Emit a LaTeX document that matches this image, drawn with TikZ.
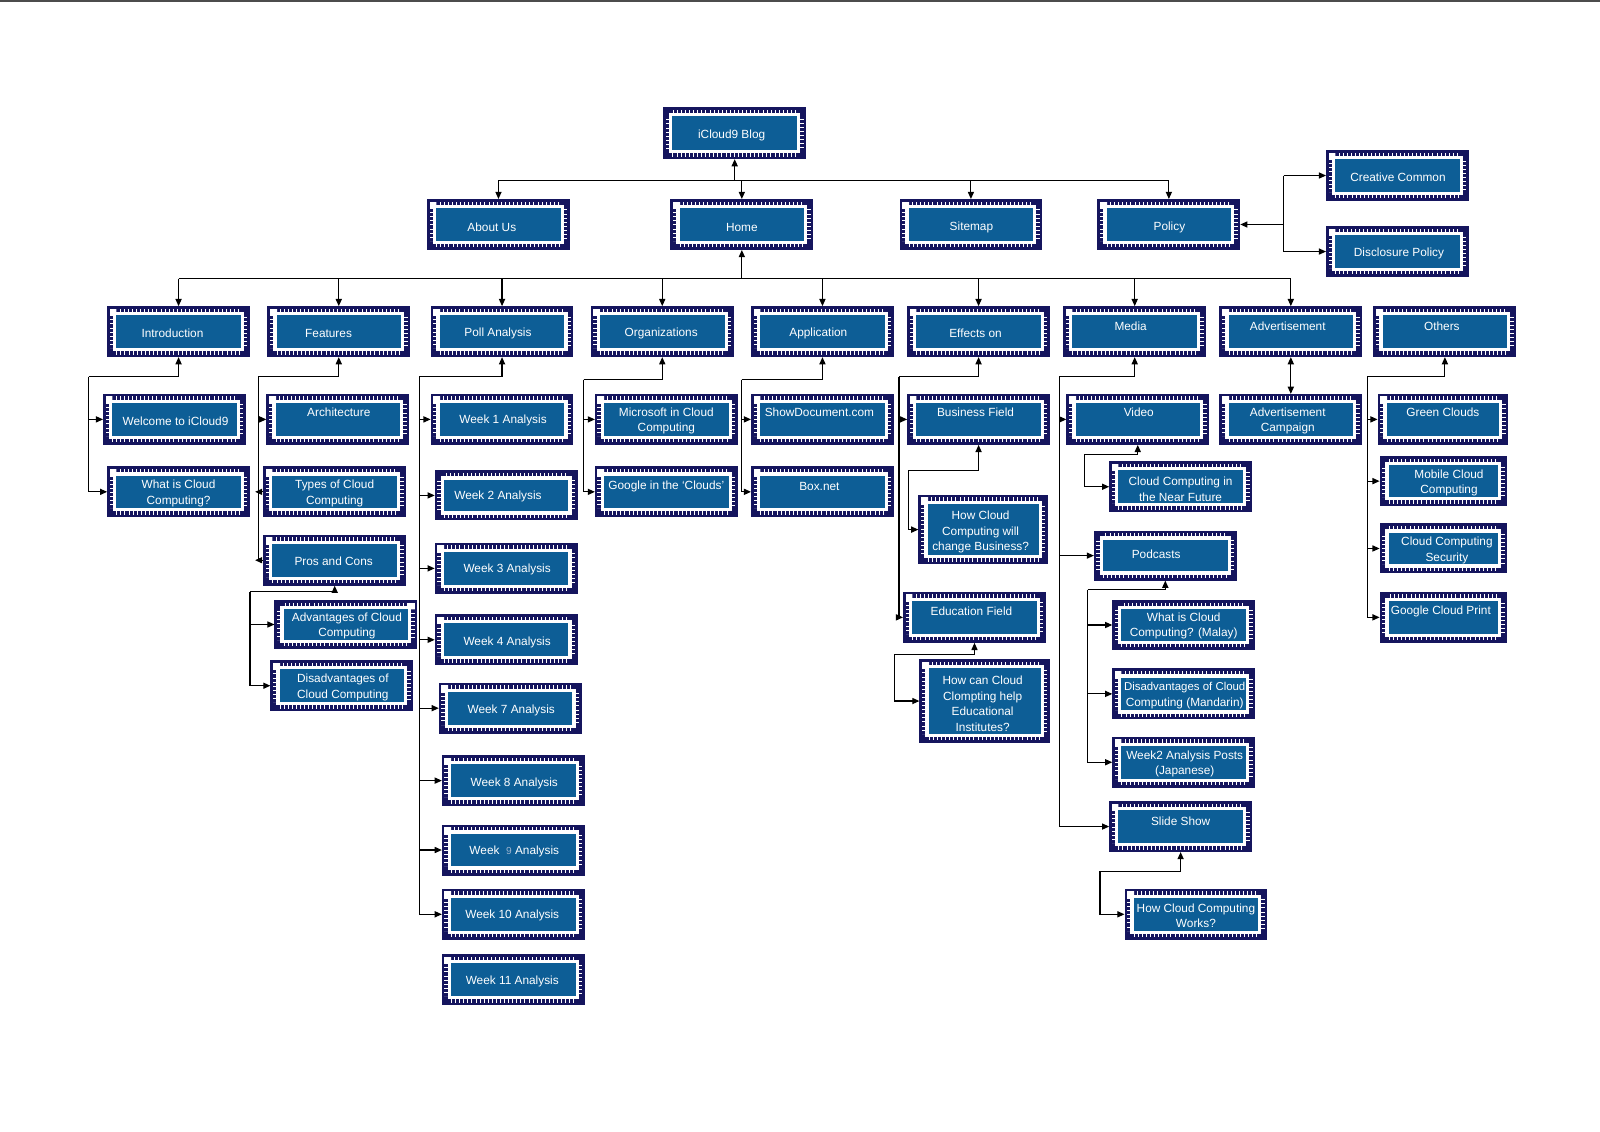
\documentclass[tikz,border=0pt]{standalone}
\usepackage{fontspec}
\setmainfont{Liberation Sans}
\usetikzlibrary{arrows.meta}
\definecolor{boxblue}{HTML}{0D5E96}
\definecolor{navy}{HTML}{15155E}
\definecolor{ninec}{HTML}{9DB4CF}
\tikzset{
  box/.style={fill=boxblue, inner sep=0pt, outer sep=9pt,
    preaction={draw=navy, line width=18pt},
    preaction={draw=white, line width=13pt, dash pattern=on 0.7pt off 3.3pt},
    preaction={draw=white, line width=6.5pt}},
  txt/.style={text=white, align=center, inner sep=0pt, yshift=-1.5pt, font=\fontsize{11.6}{15.2}\selectfont},
  arr/.style={-{Triangle[length=7pt,width=6pt]}, line width=1.1pt},
  ln/.style={line width=1.1pt},
  dbl/.style={{Triangle[length=7pt,width=6pt]}-{Triangle[length=7pt,width=6pt]}, line width=1.1pt}
}
\newcommand\bx[8]{%
  \node[box, minimum width={(#4-18)*1pt}, minimum height={(#5-18)*1pt}] (#1) at (#2,#3) {};
  \node[txt] (#1t) at (#6,#7) {#8};}
\begin{document}
\begin{tikzpicture}[x=1pt,y=-1pt]
\useasboundingbox (0,0) rectangle (1568,1109);
\fill[white] (0,0) rectangle (1568,1109);
\draw[line width=2pt, black!70] (0,1) -- (1568,1);

% top levels
\bx{blog}{720}{130.5}{140}{51}{717}{131}{iCloud9 Blog}
\bx{about}{488.5}{220}{140}{50}{482}{221}{About Us}
\bx{home}{727}{220}{140}{50}{727}{221}{Home}
\bx{sitemap}{951.5}{220}{140}{50}{952}{221}{Sitemap}
\bx{policy}{1145.5}{220}{140}{50}{1146}{221}{Policy}
\bx{cc}{1369.5}{172}{140}{50}{1370}{172}{Creative Common}
\bx{dp}{1369.5}{246.5}{140}{50}{1371}{247}{Disclosure Policy}

% level 2
\bx{intro}{175}{325}{140}{50}{169}{325}{Introduction}
\bx{feat}{332}{325}{140}{50}{322}{325}{Features}
\bx{poll}{492}{325}{140}{50}{488}{325}{Poll Analysis}
\bx{org}{649}{325}{140}{50}{648}{325}{Organizations}
\bx{app}{806}{325}{140}{50}{802}{325}{Application}
\bx{eff}{959}{325}{140}{50}{956}{325}{Effects on}
\bx{media}{1112}{325}{140}{50}{1108}{318}{Media}
\bx{adv}{1265}{325}{140}{50}{1262}{318}{Advertisement}
\bx{oth}{1416}{325}{140}{50}{1413}{318}{Others}

% level 3
\bx{welcome}{171}{411}{140}{50}{172}{411}{Welcome to iCloud9}
\bx{whatis}{175}{482}{140}{50}{175}{482}{What is Cloud\\Computing?}
\bx{arch}{331}{411}{140}{50}{332}{403}{Architecture}
\bx{types}{328}{482}{140}{50}{328}{482}{Types of Cloud\\Computing}
\bx{pros}{328}{549}{140}{50}{327}{549}{Pros and Cons}
\bx{advg}{339}{612}{140}{48}{340}{612}{Advantages of Cloud\\Computing}
\bx{disadv}{335}{672}{140}{50}{336}{672}{Disadvantages of\\Cloud Computing}
\bx{w1}{492}{411}{140}{50}{493}{411}{Week 1 Analysis}
\bx{w2}{496}{485.5}{140}{49}{488}{485}{Week 2 Analysis}
\bx{w3}{496}{557}{140}{50}{497}{557}{Week 3 Analysis}
\bx{w4}{496}{627}{140}{50}{497}{628}{Week 4 Analysis}
\bx{w7}{500}{694}{140}{50}{501}{695}{Week 7 Analysis}
\bx{w8}{503}{765}{140}{50}{504}{766}{Week 8 Analysis}
\bx{w9}{503}{833}{140}{50}{504}{833}{Week\ \ {\color{ninec}\fontsize{10}{12}\selectfont 9} Analysis}
\bx{w10}{503}{896}{140}{50}{502}{896}{Week 10 Analysis}
\bx{w11}{503}{960}{140}{50}{502}{960}{Week 11 Analysis}
\bx{ms}{653}{411}{140}{50}{653}{411}{Microsoft in Cloud\\Computing}
\bx{goog}{653}{482}{140}{50}{653}{475}{Google in the ‘Clouds’}
\bx{showd}{806}{411}{140}{50}{803}{403}{ShowDocument.com}
\bx{boxnet}{806}{482}{140}{50}{803}{475}{Box.net}
\bx{bus}{959}{411}{140}{50}{956}{403}{Business Field}
\bx{howbus}{963.5}{519}{127}{68}{961}{520}{How Cloud\\Computing will\\change Business?}
\bx{edu}{955}{605}{140}{50}{952}{598}{Education Field}
\bx{howedu}{965}{687}{128}{82}{963}{688}{How can Cloud\\Clompting help\\Educational\\Institutes?}
\bx{video}{1115}{411}{140}{50}{1116}{403}{Video}
\bx{near}{1157}{477}{140}{50}{1157}{478}{Cloud Computing in\\the Near Future}
\bx{pod}{1142}{544.5}{140}{49}{1133}{542}{Podcasts}
\bx{malay}{1160}{612.5}{140}{49}{1160}{612}{What is Cloud\\Computing? (Malay)}
\bx{mand}{1160}{680}{140}{50}{1161}{680}{\fontsize{11.2}{15.2}\selectfont Disadvantages of Cloud\\Computing (Mandarin)}
\bx{jap}{1160}{747}{140}{50}{1161}{747}{Week2 Analysis Posts\\(Japanese)}
\bx{slide}{1157}{810}{140}{50}{1157}{803}{Slide Show}
\bx{works}{1172}{896}{140}{50}{1172}{896}{How Cloud Computing\\Works?}
\bx{camp}{1265}{411}{140}{50}{1262}{411}{Advertisement\\Campaign}
\bx{green}{1414}{411}{128}{50}{1414}{403}{Green Clouds}
\bx{mobile}{1414.5}{471.5}{125}{49}{1420}{472}{Mobile Cloud\\Computing}
\bx{sec}{1414.5}{537.5}{125}{49}{1418}{538}{Cloud Computing\\Security}
\bx{gcp}{1414.5}{605}{125}{50}{1412}{598}{Google Cloud Print}

% connectors: top
\coordinate (b0) at (0,177);
\draw[ln] (about.north|-b0) -- (policy.north|-b0);
\draw[arr] (blog.south|-b0) -- (blog.south);
\foreach \n in {about,home,sitemap,policy} \draw[arr] (\n.north|-b0) -- (\n.north);
\coordinate (pj) at (1258,0);
\draw[arr] (pj|-policy.east) -- (policy.east);
\draw[ln] (pj|-cc.west) -- (pj|-dp.west);
\draw[arr] (pj|-cc.west) -- (cc.west);
\draw[arr] (pj|-dp.west) -- (dp.west);

% level 2 bus
\coordinate (b1) at (0,273);
\draw[ln] (intro.north|-b1) -- (adv.north|-b1);
\draw[arr] (home.south|-b1) -- (home.south);
\foreach \n in {intro,feat,poll,org,app,eff,media,adv} \draw[arr] (\n.north|-b1) -- (\n.north);

% introduction
\coordinate (Li) at (87,369);
\draw[arr] (Li) -| (intro.south);
\draw[arr] (Li) |- (welcome.west);
\draw[arr] (Li) |- (whatis.west);

% features
\coordinate (Lf) at (253,369);
\draw[arr] (Lf) -| (feat.south);
\draw[arr] (Lf) |- (arch.west);
\draw[ln] (Lf) -- (Lf|-pros.west);
\draw[arr] (types.west) -- ++(-8,0);
\draw[arr] (pros.west) -- ++(-8,0);
\coordinate (Lp) at (245,580);
\draw[arr] (Lp) -| (pros.south);
\draw[arr] (Lp) |- (advg.west);
\draw[arr] (Lp) |- (disadv.west);

% poll
\coordinate (Lw) at (411,369);
\draw[arr] (Lw) -| (poll.south);
\foreach \n in {w1,w2,w3,w4,w7,w8,w9,w10} \draw[arr] (Lw) |- (\n.west);

% organizations
\coordinate (Lo) at (572,372);
\draw[arr] (Lo) -| (org.south);
\draw[arr] (Lo) |- (ms.west);
\draw[arr] (Lo) |- (goog.west);

% application
\coordinate (La) at (727,372);
\draw[arr] (La) -| (app.south);
\draw[arr] (La) |- (showd.west);
\draw[arr] (La) |- (boxnet.west);

% effects
\coordinate (Le) at (881,369);
\draw[arr] (Le) -| (eff.south);
\draw[arr] (Le) |- (bus.west);
\draw[arr] (Le) |- (edu.west);
\coordinate (Lb) at (890,461);
\draw[arr] (Lb) -| (bus.south);
\draw[arr] (Lb) |- (howbus.west);
\coordinate (Led) at (877,641);
\draw[arr] (Led) -| (edu.south);
\draw[arr] (Led) |- (howedu.west);

% media
\coordinate (Lm) at (1038,369);
\draw[arr] (Lm) -| (media.south);
\draw[arr] (Lm) |- (video.west);
\draw[arr] (Lm) |- (pod.west);
\draw[arr] (Lm) |- (slide.west);
\coordinate (Lv) at (1063,445);
\draw[arr] (Lv) -| (video.south);
\draw[arr] (Lv) |- (near.west);
\coordinate (Lpo) at (1066,578);
\draw[arr] (Lpo) -| (pod.south);
\foreach \n in {malay,mand,jap} \draw[arr] (Lpo) |- (\n.west);
\coordinate (Ls) at (1078,854);
\draw[arr] (Ls) -| (slide.south);
\draw[arr] (Ls) |- (works.west);

% advertisement
\draw[dbl] (adv.south) -- (camp.north);

% others
\coordinate (Lt) at (1340,369);
\draw[arr] (Lt) -| (oth.south);
\foreach \n in {green,mobile,sec,gcp} \draw[arr] (Lt) |- (\n.west);
\end{tikzpicture}
\end{document}
